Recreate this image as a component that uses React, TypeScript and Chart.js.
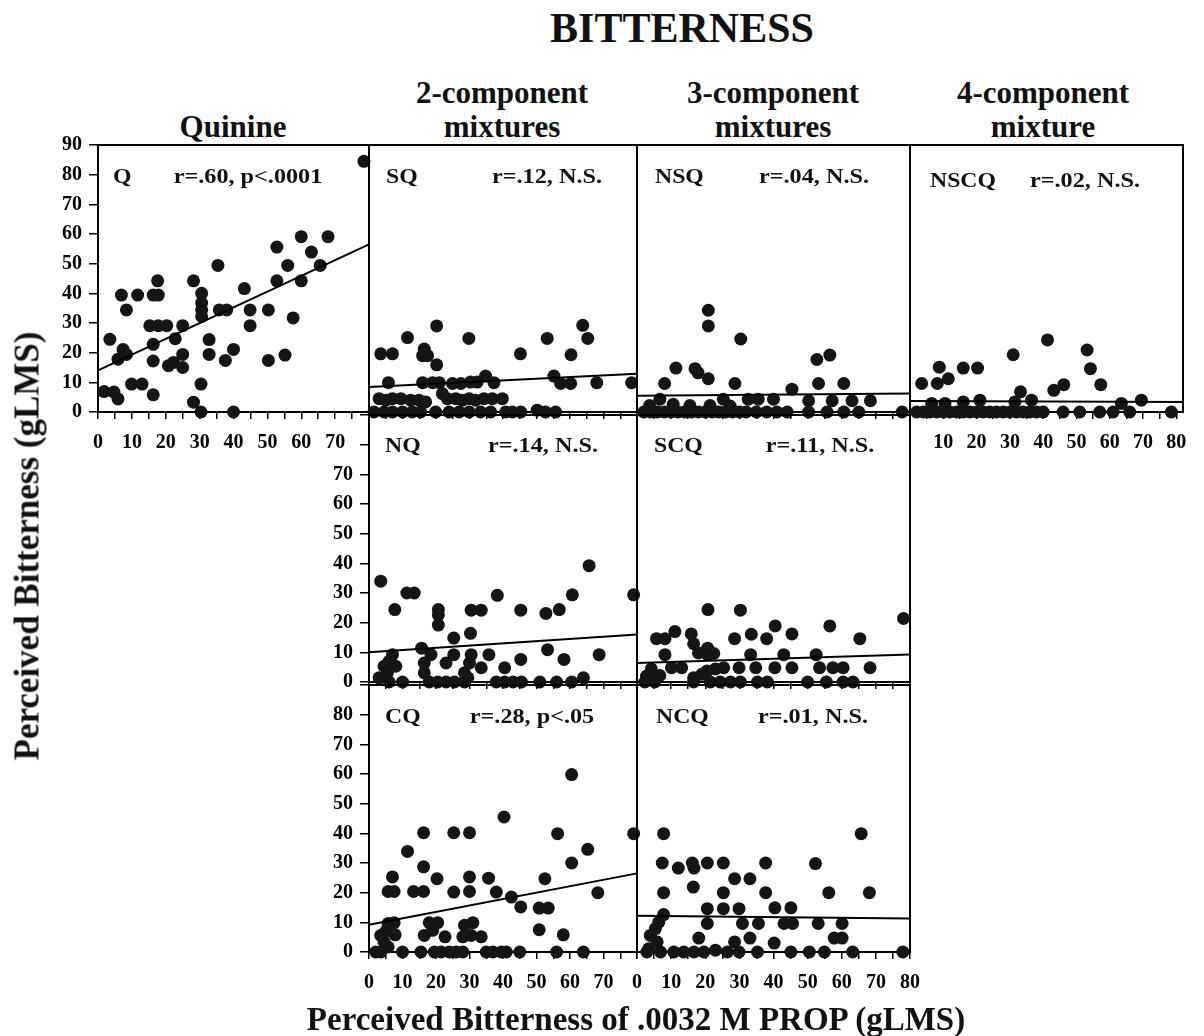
import React, { useEffect, useRef } from 'react';
import { Chart, registerables } from 'chart.js';

Chart.register(...registerables);

const FONT = '"Liberation Serif", "Times New Roman", Times, serif';

// ---------- DATA (x = PROP bitterness, y = mixture/quinine bitterness) ----------
const Q_POINTS: [number, number][] = [
  [78.5, 84.5], [3.5, 24.5], [1.8, 6.9], [4.7, 6.7], [5.9, 4.4], [6.9, 39.4], [8.4, 34.4], [5.9, 17.8],
  [7.4, 21.1], [8.4, 19.4], [9.9, 9.4], [13, 9.4], [11.7, 39.4], [16.3, 39.4], [17.8, 39.4], [17.6, 44.2],
  [15.3, 29.1], [17.8, 29.1], [20.3, 29.1], [16.3, 22.8], [16.3, 17.2], [16.3, 5.8], [22.8, 24.7],
  [20.8, 15.6], [22.3, 16.7], [25, 29.1], [25, 19.4], [25, 15], [28.2, 44.2], [28.2, 3.3], [30.4, 9.4],
  [30.4, 0], [30.6, 40], [30.6, 36.7], [30.6, 34.4], [30.6, 32.2], [32.8, 24.4], [32.8, 19.4], [35.4, 49.4],
  [35.8, 34.4], [38, 34.4], [37.6, 17.4], [40, 21.1], [40, 0], [43.2, 41.6], [44.9, 34.4], [44.9, 29.1],
  [50.3, 34.4], [50.3, 17.4], [52.8, 55.6], [52.8, 44.2], [55.2, 19.2], [56, 49.4], [57.6, 31.7],
  [60, 59.1], [60, 44.2], [63, 53.9], [65.6, 49.4], [67.9, 59.1],
];
const SQ_POINTS: [number, number][] = [
  [20.2, 29], [11.5, 25.1], [3.5, 19.6], [7, 19.6], [16.5, 21.2], [16, 19], [17.5, 19], [20.2, 15.9],
  [29.8, 24.8], [45.2, 19.6], [53.2, 24.8], [63.8, 29.2], [65.3, 24.8], [60.3, 19.3],
  [5.8, 9.9], [16, 9.9], [19, 9.9], [21, 9.9], [24.9, 9.6], [27.4, 9.6], [30.3, 10.1], [32.3, 10.1],
  [34.8, 12.1], [37.3, 9.9], [55.2, 12.1], [57.2, 9.6], [60.2, 9.6], [68, 9.9], [78.4, 9.9],
  [3, 4.5], [5, 4], [7, 4.5], [9.5, 4.5], [12.4, 4], [14.9, 4], [16.9, 3.4], [21.9, 6.2], [23.4, 4.5],
  [25.9, 4.5], [27.9, 4], [29.9, 4.5], [31.8, 4], [34.3, 4.5], [36.8, 4.5], [39.8, 4.5],
  [1.5, 0], [4.5, 0], [7, 0], [10, 0], [12.9, 0], [15.4, 0], [19.9, 0], [23.9, 0], [26.9, 0], [29.9, 0],
  [33.3, 0], [36.3, 0], [40.8, 0], [42.8, 0], [45.3, 0], [50.2, 0.6], [52.7, 0], [55.7, 0],
];
const NSQ_POINTS: [number, number][] = [
  [20.9, 34.3], [20.9, 29], [30.4, 24.6], [11.4, 14.8], [17, 14.6], [17.9, 13.2], [20.9, 11.2], [8.1, 9.6],
  [28.7, 9.6], [52.7, 17.7], [56.5, 19.2], [45.4, 7.7], [53.2, 9.6], [60.6, 9.6],
  [6.7, 4.3], [25.3, 4.3], [32.6, 4.3], [35.5, 4.3], [40, 4.3], [50.3, 3.8], [57.2, 3.8], [63, 3.8], [68.4, 3.8],
  [3.7, 2.2], [10.6, 2.6], [15.5, 2.2], [21.4, 2.2], [27.3, 2],
  [2, 0], [4, 0], [6, 0], [8, 0], [10, 0], [12, 0], [14, 0], [16, 0], [18, 0], [20, 0], [22, 0], [24, 0],
  [26, 0], [28, 0], [30, 0], [32, 0], [35, 0], [38, 0], [41, 0], [44, 0], [50.3, 0], [55.7, 0], [60.6, 0],
  [65, 0], [77.7, 0],
];
const NSCQ_POINTS: [number, number][] = [
  [41.3, 24.3], [53.2, 20.9], [54.2, 14.6], [31, 19.3], [8.8, 15.1], [16, 14.8], [20.3, 14.8], [3.5, 9.6],
  [8.2, 9.6], [11.5, 11.2], [33.2, 6.8], [43.2, 7.3], [46.2, 9.2], [57.3, 9.2],
  [6.5, 2.9], [10.5, 2.9], [16, 3.4], [21, 4], [31.5, 3.4], [36.5, 4], [63.5, 2.9], [69.5, 4],
  [2, 0], [4, 0], [6, 0], [8, 0], [10, 0], [12, 0], [14, 0], [16, 0], [18, 0], [20, 0], [22, 0], [24, 0],
  [26, 0], [28, 0], [30, 0], [32, 0], [34, 0], [36, 0], [38, 0], [40, 0], [46, 0], [51, 0], [57, 0],
  [61, 0], [66, 0], [78.5, 0],
];
const NQ_POINTS: [number, number][] = [
  [3.5, 34], [7.7, 24.4], [11.3, 30], [13.5, 30], [20.7, 24.4], [20.7, 22.6], [20.7, 19.2], [25.3, 14.8],
  [30.3, 16.4], [30.5, 24.2], [33.5, 24.2], [38.3, 29.2], [45.3, 24.2], [52.8, 23.1], [56.8, 24.4],
  [53.3, 10.9], [60.7, 29.4], [65.7, 39.2], [68.7, 9.2], [79, 29.4], [58.2, 7.6], [64, 1.4], [45.3, 7.6],
  [40.5, 4.8], [35.8, 9.2], [33.5, 4.8], [30.5, 9.2], [30, 6.4], [28.5, 3.1], [29.5, 1.4], [25.3, 9.2],
  [23, 6.4], [15.7, 11.4], [18.5, 9.2], [16.5, 6.4], [16.5, 3.1], [7, 9.2], [6, 7], [4.5, 5.3], [8, 5.3],
  [3, 1.4], [5.5, 3.1],
  [6, 0], [10, 0], [18, 0], [20.5, 0], [23, 0], [25.5, 0], [28.5, 0], [38, 0], [40.5, 0], [43, 0],
  [45.5, 0], [51, 0], [56, 0], [60.5, 0],
];
const SCQ_POINTS: [number, number][] = [
  [20.8, 24.4], [30.3, 24.2], [78.1, 21.4], [40.5, 18.9], [56.5, 18.9], [11.1, 17], [5.7, 14.6], [8.2, 14.6],
  [15.9, 16.2], [28.6, 14.6], [33.5, 16.1], [38, 14.6], [45.4, 16.2], [65.3, 14.6], [16.6, 12.9],
  [20.7, 11.4], [18, 9.8], [22.5, 9.6], [20.7, 9.2], [8.2, 9.2], [33.3, 9.2], [43, 9.2], [52.5, 9.2],
  [4.2, 4.4], [10.1, 4.8], [13.1, 4.8], [20.5, 3.7], [23, 4.4], [25.4, 4.8], [29.9, 4.8], [34.8, 4.8],
  [40.4, 4.8], [45.4, 4.8], [53.5, 4.8], [57.4, 4.8], [60.4, 4.8], [68.3, 4.8],
  [2.8, 2], [6.7, 2.2], [16.6, 1.4], [19, 2.6],
  [2.3, 0], [5.2, 0], [16.6, 0], [21.5, 0], [24.4, 0], [27.4, 0], [30.3, 0], [35.3, 0], [38.2, 0],
  [50, 0], [55.5, 0], [60.4, 0], [63.3, 0],
];
const CQ_POINTS: [number, number][] = [
  [60.5, 59.8], [40.3, 45.5], [16.3, 40.2], [25.3, 40.2], [30, 40.2], [56.3, 39.9], [79, 39.9],
  [65.3, 34.6], [60.5, 30], [11.5, 33.9], [16.3, 28.7], [7, 25.3], [20.3, 24.7], [30, 25.3], [35.7, 24.9],
  [52.5, 24.7], [5.7, 20.4], [7.5, 20.4], [13.3, 20.4], [16.3, 20.4], [25.3, 20.2], [30, 20.4], [38, 20.2],
  [68.3, 20], [42.5, 18.5], [45.3, 15.2], [50.8, 14.8], [53.5, 14.8], [50.8, 7.5], [58, 5.8], [18, 9.9],
  [20.5, 9.9], [16.5, 5.6], [19, 7.3], [22.7, 5.1], [28.5, 9], [31, 9.9], [28, 5.1], [30.5, 5.6],
  [33.5, 5.1], [3.5, 5.6], [5, 7], [7.5, 9.9], [5.7, 9.6], [7.8, 5.8], [5.7, 1.7], [4.5, 3.4],
  [2, 0], [3.5, 0], [10, 0], [15.5, 0], [19.5, 0], [21.5, 0], [24, 0], [26, 0], [28, 0], [35, 0],
  [37, 0], [39.5, 0], [41, 0], [45, 0], [56, 0], [64, 0],
];
const NCQ_POINTS: [number, number][] = [
  [7.8, 39.9], [65.7, 39.9], [7.4, 30], [12.1, 28.3], [16.2, 30], [16.7, 28.3], [20.6, 30], [25.3, 30],
  [37.7, 30], [52.3, 29.8], [28.6, 24.7], [33.1, 24.7], [7.8, 20], [16.5, 21.9], [25.3, 20], [37.7, 20],
  [56.2, 20], [68.1, 20], [20.6, 14.6], [25.3, 14.6], [29.9, 14.6], [40.4, 14.9], [45.1, 14.9], [7.8, 12.6],
  [20.6, 9.6], [30.9, 9.6], [35.6, 9.6], [43.1, 9.6], [45.6, 9.6], [53.1, 9.6], [60.1, 9.6], [18.1, 4.7],
  [33.1, 4.7], [57.8, 4.7], [60.1, 4.7], [28.6, 3.4], [40.2, 3], [6.4, 10.1], [5.4, 7.9], [3.9, 5.6],
  [5.9, 3.4], [3.4, 1.1],
  [2.9, 0], [6.9, 0], [10.8, 0], [13.7, 0], [16.7, 0], [19.6, 0], [23, 0.6], [26.5, 0], [29.9, 0],
  [35.3, 0], [45.1, 0], [50.5, 0], [54.9, 0], [63.2, 0], [77.9, 0],
];

// regression line end points
const Q_FIT: [number, number][] = [[0, 14], [80, 56.5]];
const SQ_FIT: [number, number][] = [[0, 8.4], [80, 12.9]];
const NSQ_FIT: [number, number][] = [[0, 5.5], [80, 6.2]];
const NSCQ_FIT: [number, number][] = [[0, 3.7], [82, 3.4]];
const NQ_FIT: [number, number][] = [[0, 10], [80, 16]];
const SCQ_FIT: [number, number][] = [[0, 6.4], [80, 9.3]];
const CQ_FIT: [number, number][] = [[0, 9.2], [80, 26.5]];
const NCQ_FIT: [number, number][] = [[0, 12.2], [80, 11.3]];

// tick labels
const X_TICKS_0_70 = [0, 10, 20, 30, 40, 50, 60, 70];
const X_TICKS_0_80 = [0, 10, 20, 30, 40, 50, 60, 70, 80];
const X_TICKS_10_80 = [10, 20, 30, 40, 50, 60, 70, 80];
const Y_TICKS_0_90 = [0, 10, 20, 30, 40, 50, 60, 70, 80, 90];
const Y_TICKS_0_80 = [0, 10, 20, 30, 40, 50, 60, 70, 80];
const Y_TICKS_0_70 = [0, 10, 20, 30, 40, 50, 60, 70];
const NONE: number[] = [];

const PANEL_NAMES = ['Q', 'SQ', 'NSQ', 'NSCQ', 'NQ', 'SCQ', 'CQ', 'NCQ'];
const PANEL_STATS = ['r=.60, p<.0001', 'r=.12, N.S.', 'r=.04, N.S.', 'r=.02, N.S.', 'r=.14, N.S.', 'r=.11, N.S.', 'r=.28, p<.05', 'r=.01, N.S.'];

// ---------- LAYOUT ----------
const COL_EDGES = [98, 369, 637, 910, 1183];
const ROW_EDGES = [142, 412, 682, 952];
const PAD = { l: 60, r: 24, t: 16, b: 52 };

type PanelSpec = {
  col: number; row: number; xMax: number;
  points: [number, number][]; fit: [number, number][];
  xTicks: number[]; yTicks: number[];
  name: string; stat: string;
  nameX: number; statX: number; textY: number;
};

const PANELS: PanelSpec[] = [
  { col: 0, row: 0, xMax: 80, points: Q_POINTS, fit: Q_FIT, xTicks: X_TICKS_0_70, yTicks: Y_TICKS_0_90, name: PANEL_NAMES[0], stat: PANEL_STATS[0], nameX: 113, statX: 248, textY: 176 },
  { col: 1, row: 0, xMax: 80, points: SQ_POINTS, fit: SQ_FIT, xTicks: NONE, yTicks: NONE, name: PANEL_NAMES[1], stat: PANEL_STATS[1], nameX: 386, statX: 547, textY: 176 },
  { col: 2, row: 0, xMax: 80, points: NSQ_POINTS, fit: NSQ_FIT, xTicks: NONE, yTicks: NONE, name: PANEL_NAMES[2], stat: PANEL_STATS[2], nameX: 655, statX: 814, textY: 176 },
  { col: 3, row: 0, xMax: 82, points: NSCQ_POINTS, fit: NSCQ_FIT, xTicks: X_TICKS_10_80, yTicks: NONE, name: PANEL_NAMES[3], stat: PANEL_STATS[3], nameX: 930, statX: 1085, textY: 180 },
  { col: 1, row: 1, xMax: 80, points: NQ_POINTS, fit: NQ_FIT, xTicks: NONE, yTicks: Y_TICKS_0_70, name: PANEL_NAMES[4], stat: PANEL_STATS[4], nameX: 385, statX: 543, textY: 445 },
  { col: 2, row: 1, xMax: 80, points: SCQ_POINTS, fit: SCQ_FIT, xTicks: NONE, yTicks: NONE, name: PANEL_NAMES[5], stat: PANEL_STATS[5], nameX: 654, statX: 820, textY: 445 },
  { col: 1, row: 2, xMax: 80, points: CQ_POINTS, fit: CQ_FIT, xTicks: X_TICKS_0_70, yTicks: Y_TICKS_0_80, name: PANEL_NAMES[6], stat: PANEL_STATS[6], nameX: 385, statX: 532, textY: 716 },
  { col: 2, row: 2, xMax: 80, points: NCQ_POINTS, fit: NCQ_FIT, xTicks: X_TICKS_0_80, yTicks: NONE, name: PANEL_NAMES[7], stat: PANEL_STATS[7], nameX: 656, statX: 813, textY: 716 },
];

const framePlugin = {
  id: 'frame',
  beforeDatasetsDraw(chart: any) {
    const { ctx, chartArea } = chart;
    ctx.save();
    ctx.strokeStyle = '#000';
    ctx.lineWidth = 2;
    ctx.strokeRect(chartArea.left, chartArea.top, chartArea.right - chartArea.left, chartArea.bottom - chartArea.top);
    ctx.restore();
  },
};

function Panel({ spec }: { spec: PanelSpec }) {
  const ref = useRef<HTMLCanvasElement>(null);
  const left = COL_EDGES[spec.col];
  const right = COL_EDGES[spec.col + 1];
  const top = ROW_EDGES[spec.row];
  const bottom = ROW_EDGES[spec.row + 1];
  const w = right - left + PAD.l + PAD.r;
  const h = bottom - top + PAD.t + PAD.b;

  useEffect(() => {
    const tickFont = { family: FONT, size: 20, weight: 'bold' as const };
    const chart = new Chart(ref.current!, {
      type: 'scatter',
      data: {
        datasets: [
          {
            label: 'fit',
            data: spec.fit.map(([x, y]) => ({ x, y })),
            showLine: true,
            borderColor: '#000',
            borderWidth: 2,
            pointRadius: 0,
            clip: false as any,
          },
          {
            label: 'points',
            data: spec.points.map(([x, y]) => ({ x, y })),
            pointRadius: 6.5,
            pointBackgroundColor: '#151515',
            pointBorderWidth: 0,
            showLine: false,
            clip: false as any,
          },
        ],
      },
      options: {
        animation: false,
        responsive: false,
        events: [],
        layout: { padding: { top: PAD.t, right: PAD.r, left: 0, bottom: 0 } },
        plugins: { legend: { display: false }, tooltip: { enabled: false }, title: { display: false } },
        scales: {
          x: {
            type: 'linear',
            min: 0,
            max: spec.xMax,
            afterFit: (s: any) => { s.height = PAD.b; },
            ticks: {
              stepSize: 5,
              autoSkip: false,
              maxRotation: 0,
              includeBounds: false,
              padding: 12,
              color: '#000',
              font: tickFont,
              callback: (v: any) => (spec.xTicks.includes(Number(v)) ? String(v) : ''),
            },
            grid: { drawOnChartArea: false, drawTicks: true, tickLength: 7, color: '#000', lineWidth: 1.5 },
            border: { display: true, color: '#000', width: 2 },
          },
          y: {
            type: 'linear',
            min: 0,
            max: 90,
            afterFit: (s: any) => { s.width = PAD.l; },
            ticks: {
              stepSize: 10,
              autoSkip: false,
              includeBounds: false,
              padding: 7,
              color: '#000',
              font: tickFont,
              callback: (v: any) => (spec.yTicks.includes(Number(v)) ? String(v) : ''),
            },
            grid: { drawOnChartArea: false, drawTicks: spec.yTicks.length > 0, tickLength: 9, color: '#000', lineWidth: 1.5 },
            border: { display: true, color: '#000', width: 2 },
          },
        },
      } as any,
      plugins: [framePlugin],
    });
    return () => chart.destroy();
  }, []);

  return (
    <canvas
      ref={ref}
      width={w}
      height={h}
      style={{ position: 'absolute', left: left - PAD.l, top: top - PAD.t, width: w, height: h }}
    />
  );
}

const textBase: React.CSSProperties = {
  position: 'absolute',
  fontFamily: FONT,
  fontWeight: 'bold',
  color: '#111',
  whiteSpace: 'nowrap',
  lineHeight: 1,
};

function Label({ x, y, size, children, align = 'center', stretch = 1 }: { x: number; y: number; size: number; children: React.ReactNode; align?: 'center' | 'left'; stretch?: number }) {
  return (
    <div
      style={{
        ...textBase,
        left: x,
        top: y,
        fontSize: size,
        transformOrigin: align === 'center' ? '50% 50%' : '0 50%',
        transform: (align === 'center' ? 'translate(-50%, -50%)' : 'translate(0, -50%)') + ` scaleX(${stretch})`,
      }}
    >
      {children}
    </div>
  );
}

export default function App() {
  return (
    <div style={{ position: 'absolute', left: 0, top: 0, width: 1204, height: 1036, background: '#fff', overflow: 'hidden' }}>
      <Label x={682} y={28} size={42}>BITTERNESS</Label>
      <Label x={233} y={126} size={31}>Quinine</Label>
      <Label x={502} y={92} size={31}>2-component</Label>
      <Label x={502} y={126} size={31}>mixtures</Label>
      <Label x={773} y={92} size={31}>3-component</Label>
      <Label x={773} y={126} size={31}>mixtures</Label>
      <Label x={1043} y={92} size={31}>4-component</Label>
      <Label x={1043} y={126} size={31}>mixture</Label>

      {PANELS.map((p, i) => (
        <Panel key={i} spec={p} />
      ))}

      {PANELS.map((p, i) => (
        <React.Fragment key={'t' + i}>
          <Label x={p.nameX} y={p.textY} size={22} align="left" stretch={1.08}>{p.name}</Label>
          <Label x={p.statX} y={p.textY} size={22} stretch={1.1}>{p.stat}</Label>
        </React.Fragment>
      ))}

      <div
        style={{
          ...textBase,
          left: 27,
          top: 546,
          fontSize: 35,
          transform: 'translate(-50%, -50%) rotate(-90deg)',
        }}
      >
        Perceived Bitterness (gLMS)
      </div>
      <Label x={636} y={1019} size={33}>Perceived Bitterness of .0032 M PROP (gLMS)</Label>
    </div>
  );
}
